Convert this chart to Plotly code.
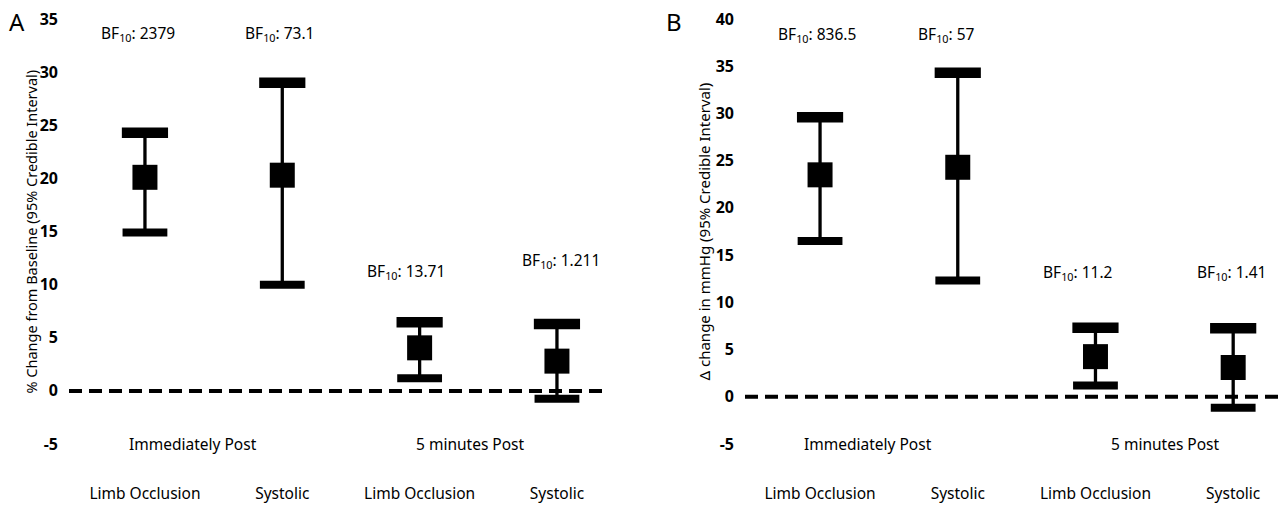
import plotly.graph_objects as go

# ---------------- data ----------------
categories = ["Limb Occlusion", "Systolic", "Limb Occlusion", "Systolic"]
groups = ["Immediately Post", "5 minutes Post"]

# Panel A: % change from baseline
a_mean = [20.1, 20.3, 4.05, 2.8]
a_upper = [24.3, 29.0, 6.45, 6.3]
a_lower = [14.9, 10.0, 1.2, -0.75]
a_bf = ["2379", "73.1", "13.71", "1.211"]

# Panel B: change in mmHg
b_mean = [23.5, 24.3, 4.25, 3.1]
b_upper = [29.6, 34.3, 7.3, 7.25]
b_lower = [16.5, 12.3, 1.2, -1.15]
b_bf = ["836.5", "57", "11.2", "1.41"]

a_ticks = [-5, 0, 5, 10, 15, 20, 25, 30, 35]
b_ticks = [-5, 0, 5, 10, 15, 20, 25, 30, 35, 40]

FONT = "Noto Sans"
idx = list(range(len(categories)))

fig = go.Figure()


def add_panel(mean, upper, lower, xa, ya):
    fig.add_trace(go.Scatter(
        x=idx, y=mean, mode="markers", xaxis=xa, yaxis=ya,
        marker=dict(symbol="square", size=25, color="black"),
        error_y=dict(type="data", symmetric=False,
                     array=[u - m for u, m in zip(upper, mean)],
                     arrayminus=[m - l for m, l in zip(mean, lower)],
                     thickness=3.3, width=0, color="black"),
        showlegend=False, hoverinfo="skip"))
    fig.add_trace(go.Scatter(
        x=idx, y=upper, mode="markers", xaxis=xa, yaxis=ya,
        marker=dict(symbol="line-ew", size=33, color="black",
                    line=dict(width=10.5, color="black")),
        showlegend=False, hoverinfo="skip"))
    fig.add_trace(go.Scatter(
        x=idx, y=lower, mode="markers", xaxis=xa, yaxis=ya,
        marker=dict(symbol="line-ew", size=32, color="black",
                    line=dict(width=8, color="black")),
        showlegend=False, hoverinfo="skip"))


add_panel(a_mean, a_upper, a_lower, "x", "y")
add_panel(b_mean, b_upper, b_lower, "x2", "y2")

W, H = 1280, 508
top, bottom = 19, 444

xcommon = dict(showgrid=False, zeroline=False, showline=False, ticks="",
               tickvals=idx, ticktext=categories, automargin=False,
               tickfont=dict(family=FONT, size=15.5, color="black"),
               ticklabelstandoff=38, fixedrange=True)
ycommon = dict(showgrid=False, zeroline=False, showline=False, ticks="",
               automargin=False,
               tickfont=dict(family=FONT, size=16, color="black", weight="bold"),
               ticklabelstandoff=10, fixedrange=True)

fig.update_layout(
    width=W, height=H,
    margin=dict(l=0, r=0, t=top, b=H - bottom),
    paper_bgcolor="white", plot_bgcolor="white",
    xaxis=dict(domain=[69 / W, 602 / W], range=[-0.553, 3.328], anchor="y", **xcommon),
    xaxis2=dict(domain=[745 / W, 1.0], range=[-0.545, 3.34], anchor="y2", **xcommon),
    yaxis=dict(domain=[0, 1], range=[-5, 35], anchor="x",
               tickvals=a_ticks, ticktext=[str(t) for t in a_ticks], **ycommon),
    yaxis2=dict(domain=[0, 1], range=[-5, 40], anchor="x2",
                tickvals=b_ticks, ticktext=[str(t) for t in b_ticks], **ycommon),
)

# dashed zero lines
for xr, yr in (("x domain", "y"), ("x2 domain", "y2")):
    fig.add_shape(type="line", xref=xr, yref=yr, x0=0, x1=1, y0=0, y1=0,
                  line=dict(color="black", width=4, dash="13px,7px"))

ann = []
txtfont = dict(family=FONT, size=15.5, color="black")
C = dict(xanchor="center", yanchor="middle", showarrow=False)

# BF annotations
a_bf_dx = [-0.05, -0.02, -0.1, 0.03]
a_bf_y = [33.6, 33.6, 11.2, 12.3]
for i, (t, dx, yy) in enumerate(zip(a_bf, a_bf_dx, a_bf_y)):
    ann.append(dict(xref="x", yref="y", x=idx[i] + dx, y=yy,
                    text=f"BF<sub>10</sub>: {t}", font=txtfont, **C))
b_bf_dx = [-0.02, -0.085, -0.13, -0.01]
b_bf_y = [38.4, 38.4, 13.2, 13.2]
for i, (t, dx, yy) in enumerate(zip(b_bf, b_bf_dx, b_bf_y)):
    ann.append(dict(xref="x2", yref="y2", x=idx[i] + dx, y=yy,
                    text=f"BF<sub>10</sub>: {t}", font=txtfont, **C))

# group labels
for xr, yr, gx in (("x", "y", [0.35, 2.37]), ("x2", "y2", [0.35, 2.51])):
    for g, xx in zip(groups, gx):
        ann.append(dict(xref=xr, yref=yr, x=xx, y=-5, text=g, font=txtfont, **C))

# axis titles
ann.append(dict(xref="paper", yref="paper", x=30 / W, y=0.5, textangle=-90,
                text="% Change from Baseline (95% Credible Interval)",
                font=dict(family=FONT, size=14.5, color="black"), **C))
ann.append(dict(xref="paper", yref="paper", x=703 / W, y=0.5, textangle=-90,
                text="Δ change in mmHg (95% Credible Interval)",
                font=dict(family=FONT, size=15, color="black"), **C))

# panel letters
ly = (bottom - 21) / (bottom - top)
ann.append(dict(xref="paper", yref="paper", x=17 / W, y=ly, text="A",
                font=dict(family=FONT, size=24, color="black"), **C))
ann.append(dict(xref="paper", yref="paper", x=674 / W, y=ly, text="B",
                font=dict(family=FONT, size=24, color="black"), **C))

fig.update_layout(annotations=ann)

fig.write_html("out.html", config={"displayModeBar": False},
               post_script="document.body.style.margin='0px';")
